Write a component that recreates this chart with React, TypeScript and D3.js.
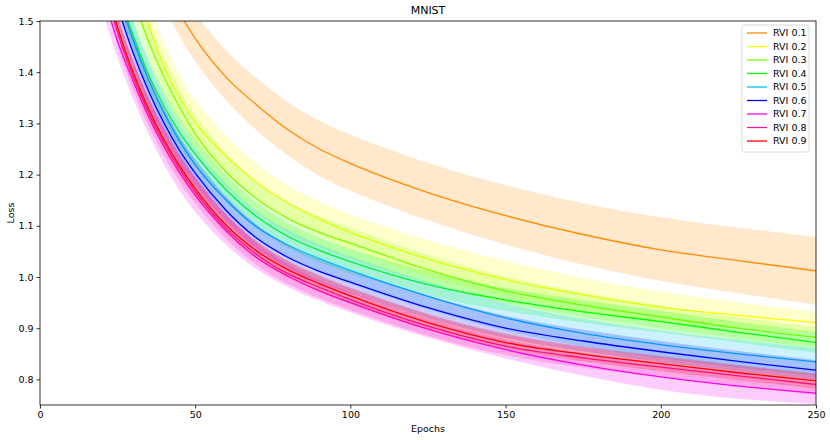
import * as d3 from "d3";
import React, { useEffect, useRef } from "react";

const epochs = [20, 25, 30, 35, 40, 45, 50, 60, 70, 80, 90, 100, 125, 150, 175, 200, 225, 250];

const labels = ["RVI 0.1", "RVI 0.2", "RVI 0.3", "RVI 0.4", "RVI 0.5", "RVI 0.6", "RVI 0.7", "RVI 0.8", "RVI 0.9"];
const colors = ["#ff8c00", "#ffff00", "#7fff00", "#00ff00", "#00bfff", "#0000ff", "#ff00ff", "#ff1493", "#ff0000"];

// mean loss per run
const rvi01 = [NaN, NaN, 1.72, 1.639, 1.572, 1.515, 1.466, 1.39, 1.335, 1.287, 1.25, 1.222, 1.165, 1.12, 1.083, 1.053, 1.032, 1.012];
const rvi02 = [1.8, 1.7, 1.59, 1.49, 1.41, 1.35, 1.302, 1.236, 1.184, 1.144, 1.113, 1.087, 1.035, 0.995, 0.965, 0.941, 0.925, 0.911];
const rvi03 = [1.75, 1.65, 1.545, 1.46, 1.39, 1.331, 1.28, 1.205, 1.152, 1.114, 1.087, 1.066, 1.014, 0.973, 0.945, 0.922, 0.9, 0.882];
const rvi04 = [1.67, 1.565, 1.472, 1.395, 1.333, 1.282, 1.24, 1.17, 1.117, 1.079, 1.052, 1.03, 0.985, 0.955, 0.932, 0.913, 0.892, 0.872];
const rvi05 = [1.66, 1.555, 1.463, 1.385, 1.32, 1.265, 1.219, 1.15, 1.097, 1.062, 1.036, 1.013, 0.962, 0.92, 0.89, 0.868, 0.85, 0.834];
const rvi06 = [1.63, 1.528, 1.438, 1.363, 1.3, 1.247, 1.203, 1.13, 1.075, 1.038, 1.011, 0.99, 0.94, 0.9, 0.875, 0.854, 0.835, 0.818];
const rvi07 = [1.56, 1.46, 1.383, 1.313, 1.254, 1.204, 1.16, 1.09, 1.037, 1.001, 0.973, 0.95, 0.898, 0.858, 0.828, 0.805, 0.787, 0.773];
const rvi08 = [1.59, 1.478, 1.392, 1.321, 1.262, 1.211, 1.167, 1.095, 1.043, 1.006, 0.98, 0.956, 0.904, 0.865, 0.842, 0.824, 0.807, 0.79];
const rvi09 = [1.6, 1.488, 1.4, 1.328, 1.268, 1.217, 1.173, 1.101, 1.05, 1.014, 0.987, 0.963, 0.911, 0.872, 0.849, 0.831, 0.813, 0.797];

// standard deviation per run
const sd01 = [0.04, 0.04, 0.042, 0.044, 0.045, 0.046, 0.047, 0.049, 0.051, 0.052, 0.054, 0.055, 0.056, 0.058, 0.06, 0.062, 0.064, 0.066];
const sd02 = [0.045, 0.045, 0.045, 0.044, 0.043, 0.042, 0.04, 0.037, 0.034, 0.032, 0.033, 0.034, 0.035, 0.035, 0.032, 0.03, 0.025, 0.021];
const sd03 = [0.04, 0.04, 0.04, 0.038, 0.036, 0.035, 0.034, 0.032, 0.03, 0.03, 0.03, 0.03, 0.028, 0.026, 0.024, 0.022, 0.021, 0.02];
const sd04 = [0.03, 0.03, 0.03, 0.03, 0.029, 0.028, 0.027, 0.026, 0.025, 0.025, 0.024, 0.024, 0.023, 0.022, 0.022, 0.021, 0.02, 0.02];
const sd05 = [0.035, 0.035, 0.034, 0.033, 0.032, 0.031, 0.03, 0.029, 0.028, 0.028, 0.027, 0.027, 0.027, 0.027, 0.027, 0.027, 0.027, 0.027];
const sd06 = [0.03, 0.03, 0.029, 0.028, 0.027, 0.026, 0.025, 0.024, 0.023, 0.023, 0.022, 0.022, 0.022, 0.022, 0.021, 0.021, 0.02, 0.02];
const sd07 = [0.036, 0.036, 0.036, 0.036, 0.036, 0.036, 0.035, 0.03, 0.025, 0.022, 0.02, 0.02, 0.018, 0.018, 0.022, 0.027, 0.026, 0.021];
const sd08 = [0.03, 0.03, 0.029, 0.028, 0.027, 0.026, 0.025, 0.024, 0.023, 0.022, 0.022, 0.021, 0.021, 0.02, 0.02, 0.02, 0.02, 0.02];
const sd09 = [0.02, 0.02, 0.02, 0.02, 0.019, 0.018, 0.018, 0.017, 0.017, 0.016, 0.016, 0.016, 0.015, 0.015, 0.015, 0.015, 0.015, 0.015];

const means = [rvi01, rvi02, rvi03, rvi04, rvi05, rvi06, rvi07, rvi08, rvi09];
const spreads = [sd01, sd02, sd03, sd04, sd05, sd06, sd07, sd08, sd09];

const xTicks = [0, 50, 100, 150, 200, 250];
const yTicks = [0.8, 0.9, 1.0, 1.1, 1.2, 1.3, 1.4, 1.5];

export default function App() {
    const svgRef = useRef<SVGSVGElement | null>(null);

    useEffect(() => {
        if (!svgRef.current) return;
        const svg = d3.select(svgRef.current);
        svg.selectAll("*").remove();

        const width = 830;
        const height = 440;
        const m = { left: 40, right: 14, top: 21, bottom: 35 };
        const font = "DejaVu Sans, sans-serif";

        const x = d3.scaleLinear().domain([0, 250]).range([m.left, width - m.right]);
        const y = d3.scaleLinear().domain([0.75, 1.5]).range([height - m.bottom, m.top]);

        svg.attr("width", width).attr("height", height);

        svg.append("defs")
            .append("clipPath")
            .attr("id", "plot-clip")
            .append("rect")
            .attr("x", m.left)
            .attr("y", m.top)
            .attr("width", width - m.left - m.right)
            .attr("height", height - m.top - m.bottom);

        const plot = svg.append("g").attr("clip-path", "url(#plot-clip)");

        means.forEach((vals, i) => {
            const pts = epochs.map((e, j) => ({ e, v: vals[j], s: spreads[i][j] }));
            const area = d3.area<{ e: number; v: number; s: number }>()
                .defined((d) => !isNaN(d.v))
                .x((d) => x(d.e))
                .y0((d) => y(d.v - d.s))
                .y1((d) => y(d.v + d.s))
                .curve(d3.curveBasis);
            const line = d3.line<{ e: number; v: number; s: number }>()
                .defined((d) => !isNaN(d.v))
                .x((d) => x(d.e))
                .y((d) => y(d.v))
                .curve(d3.curveMonotoneX);

            plot.append("path")
                .attr("d", area(pts))
                .attr("fill", colors[i])
                .attr("fill-opacity", 0.2)
                .attr("stroke", "none");
            plot.append("path")
                .attr("d", line(pts))
                .attr("fill", "none")
                .attr("stroke", colors[i])
                .attr("stroke-width", 1.3);
        });

        // axes
        const xAxis = svg.append("g")
            .attr("transform", `translate(0,${height - m.bottom})`)
            .call(d3.axisBottom(x).tickValues(xTicks).tickSize(3.5).tickPadding(3).tickFormat(d3.format("d")));
        const yAxis = svg.append("g")
            .attr("transform", `translate(${m.left},0)`)
            .call(d3.axisLeft(y).tickValues(yTicks).tickSize(3.5).tickPadding(3).tickFormat(d3.format(".1f")));

        [xAxis, yAxis].forEach((ax) => {
            ax.select(".domain").remove();
            ax.selectAll("line").attr("stroke", "#000").attr("stroke-width", 0.8);
            ax.selectAll("text").style("font-family", font).style("font-size", "9.5px").attr("fill", "#000");
        });

        // frame
        svg.append("rect")
            .attr("x", m.left)
            .attr("y", m.top)
            .attr("width", width - m.left - m.right)
            .attr("height", height - m.top - m.bottom)
            .attr("fill", "none")
            .attr("stroke", "#000")
            .attr("stroke-width", 0.8);

        svg.append("text")
            .attr("x", (m.left + width - m.right) / 2)
            .attr("y", 14)
            .attr("text-anchor", "middle")
            .style("font-family", font)
            .style("font-size", "11px")
            .text("MNIST");

        svg.append("text")
            .attr("x", (m.left + width - m.right) / 2)
            .attr("y", 432)
            .attr("text-anchor", "middle")
            .style("font-family", font)
            .style("font-size", "9.5px")
            .text("Epochs");

        svg.append("text")
            .attr("transform", `translate(14,${(m.top + height - m.bottom) / 2}) rotate(-90)`)
            .attr("text-anchor", "middle")
            .style("font-family", font)
            .style("font-size", "9.5px")
            .text("Loss");

        // legend
        const lg = svg.append("g").attr("transform", "translate(742,25)");
        lg.append("rect")
            .attr("width", 67)
            .attr("height", 127)
            .attr("rx", 2)
            .attr("fill", "#fff")
            .attr("fill-opacity", 0.8)
            .attr("stroke", "#d0d0d0")
            .attr("stroke-width", 0.8);
        labels.forEach((lab, i) => {
            const yy = 8 + i * 13.5;
            lg.append("line")
                .attr("x1", 5)
                .attr("x2", 25)
                .attr("y1", yy)
                .attr("y2", yy)
                .attr("stroke", colors[i])
                .attr("stroke-width", 1.3);
            lg.append("text")
                .attr("x", 31)
                .attr("y", yy + 3.3)
                .style("font-family", font)
                .style("font-size", "9.5px")
                .text(lab);
        });
    }, []);

    return (
        <div style={{ position: "absolute", left: 0, top: 0 }}>
            <svg ref={svgRef} style={{ display: "block" }} />
        </div>
    );
}
